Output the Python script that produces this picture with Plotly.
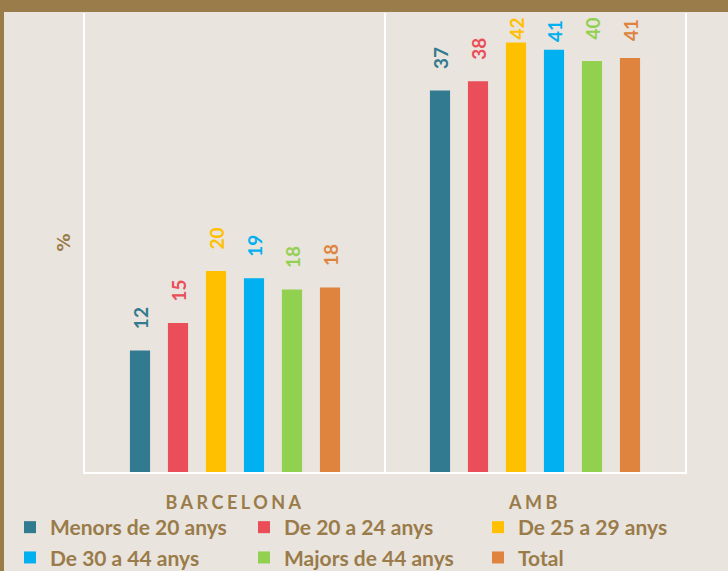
import plotly.graph_objects as go

categories = ["BARCELONA", "AMB"]
series_names = ["Menors de 20 anys", "De 20 a 24 anys", "De 25 a 29 anys",
                "De 30 a 44 anys", "Majors de 44 anys", "Total"]
menors_20 = [11.9, 37.4]
de_20_24 = [14.6, 38.3]
de_25_29 = [19.7, 42.1]
de_30_44 = [19.0, 41.4]
majors_44 = [17.9, 40.3]
total = [18.1, 40.6]
series_values = [menors_20, de_20_24, de_25_29, de_30_44, majors_44, total]
series_labels = [[12, 37], [15, 38], [20, 42], [19, 41], [18, 40], [18, 41]]
colors = ["#327A8F", "#E94E59", "#FFC000", "#00B0F0", "#92D050", "#DE843F"]

BG = "#E9E4DD"
BROWN = "#9A7B4A"
Y_MAX = 45
LABEL_TOP = 44.2   # labels are kept below this (data units), as in the original
LABEL_LEN = 2.46   # label length incl. padding, in data units
SPACE_LEN = 0.36   # one non-breaking space, in data units


def label_text(value, label):
    # outside labels normally sit ~4 spaces above the bar; squeezed near the top
    room = LABEL_TOP - value - LABEL_LEN
    n = max(0, min(4, round(room / SPACE_LEN)))
    return "\u00a0" * n + str(label)


legend_of = ["legend", "legend2", "legend3", "legend", "legend2", "legend3"]

fig = go.Figure()
for name, vals, labs, col, lg in zip(series_names, series_values, series_labels, colors, legend_of):
    fig.add_trace(go.Bar(
        x=categories, y=vals, name=name, legend=lg,
        marker=dict(color=col, line=dict(width=0)),
        text=[label_text(v, l) for v, l in zip(vals, labs)],
        textposition="outside", textangle=-90,
        textfont=dict(family="Lato", size=19, color=col, weight="bold"),
        cliponaxis=False, constraintext="none",
    ))

H_PLOT = 459.0
W_PLOT = 600.0
legend_font = dict(family="Lato", size=21, color=BROWN, weight="bold")


def legend_at(px_x):
    return dict(orientation="v", x=(px_x - 85) / W_PLOT, xanchor="left",
                y=-(507 - 472) / H_PLOT, yanchor="top",
                font=legend_font, bgcolor="rgba(0,0,0,0)",
                itemclick=False, traceorder="normal", borderwidth=0)


fig.update_layout(
    width=728, height=571,
    margin=dict(l=85, r=43, t=13, b=99, autoexpand=False),
    paper_bgcolor=BG, plot_bgcolor=BG,
    barmode="group", bargap=0.24, bargroupgap=0.47,
    showlegend=True,
    legend=legend_at(10), legend2=legend_at(244), legend3=legend_at(478),
    xaxis=dict(type="category", tickson="boundaries", showgrid=True,
               gridcolor="white", gridwidth=2, showline=True, linecolor="white",
               linewidth=2, ticks="", ticklabelstandoff=13,
               tickvals=categories,
               ticktext=['<span style="letter-spacing:3.5px">' + c + '</span>' for c in categories],
               tickfont=dict(family="Lato", size=18, color=BROWN, weight="bold")),
    yaxis=dict(range=[0, Y_MAX], showgrid=False, zeroline=False, showticklabels=False,
               ticks="", showline=True, mirror=True, linecolor="white", linewidth=2,
               title=dict(text="%", standoff=8,
                          font=dict(family="DejaVu Sans", size=18, color=BROWN, weight="bold"))),
    shapes=[
        dict(type="rect", xref="paper", yref="paper",
             x0=-90 / W_PLOT, x1=1 + 50 / W_PLOT, y0=1 + 1 / H_PLOT, y1=1 + 20 / H_PLOT,
             fillcolor=BROWN, line=dict(width=0), layer="above"),
        dict(type="rect", xref="paper", yref="paper",
             x0=-85 / W_PLOT, x1=-81 / W_PLOT, y0=-110 / H_PLOT, y1=1 + 20 / H_PLOT,
             fillcolor=BROWN, line=dict(width=0), layer="above"),
    ],
)

fig.write_html("out.html", config={"displayModeBar": False},
               post_script="document.body.style.margin='0';document.body.style.padding='0';")
